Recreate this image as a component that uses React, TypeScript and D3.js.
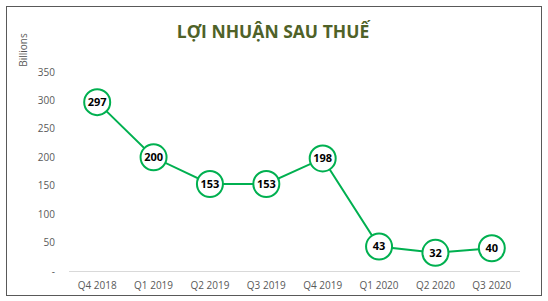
import React from "react";
import * as d3 from "d3";

const categories = ["Q4 2018", "Q1 2019", "Q2 2019", "Q3 2019", "Q4 2019", "Q1 2020", "Q2 2020", "Q3 2020"];
const profits = [297, 200, 153, 153, 198, 43, 32, 40];
const yTicks = [0, 50, 100, 150, 200, 250, 300, 350];

const W = 548, H = 301;
const left = 69, right = 520, top = 72, bottom = 271;

export default function App() {
  const x = d3.scaleBand<string>().domain(categories).range([left, right]);
  const y = d3.scaleLinear().domain([0, 350]).range([bottom, top]);
  const cx = (c: string) => (x(c) as number) + x.bandwidth() / 2;
  const line = d3.line<number>().x((_, i) => cx(categories[i])).y((d) => y(d));
  const font = "'Open Sans', 'DejaVu Sans', sans-serif";
  return (
    <svg width={W} height={H} style={{ position: "absolute", left: 0, top: 0 }} fontFamily={font}>
      <rect x={0} y={0} width={W} height={H} fill="#fff" />
      <rect x={6.5} y={6.5} width={535} height={289} fill="#fff" stroke="#595959" strokeWidth={1} />
      <text x={273} y={38} textAnchor="middle" fontSize={17.5} fontWeight="bold" fill="#4f6228">LỢI NHUẬN SAU THUẾ</text>
      <text transform="translate(27,50) rotate(-90)" textAnchor="middle" fontSize={10} fill="#595959">Billions</text>
      {yTicks.map((t) => (
        <text key={t} x={55} y={y(t)} dy="0.35em" textAnchor="end" fontSize={10} fill="#595959">
          {t === 0 ? "-" : t}
        </text>
      ))}
      <line x1={left} x2={right} y1={bottom + 0.5} y2={bottom + 0.5} stroke="#d9d9d9" strokeWidth={1} />
      {categories.map((c) => (
        <text key={c} x={cx(c)} y={289} textAnchor="middle" fontSize={10} fill="#595959">{c}</text>
      ))}
      <path d={line(profits) || ""} fill="none" stroke="#00b050" strokeWidth={2} />
      {profits.map((v, i) => (
        <g key={i}>
          <circle cx={cx(categories[i])} cy={y(v)} r={13} fill="#fff" stroke="#00b050" strokeWidth={2} />
          <text x={cx(categories[i])} y={y(v)} dy="0.35em" textAnchor="middle" fontSize={11} fontWeight="bold" fill="#000">{v}</text>
        </g>
      ))}
    </svg>
  );
}
